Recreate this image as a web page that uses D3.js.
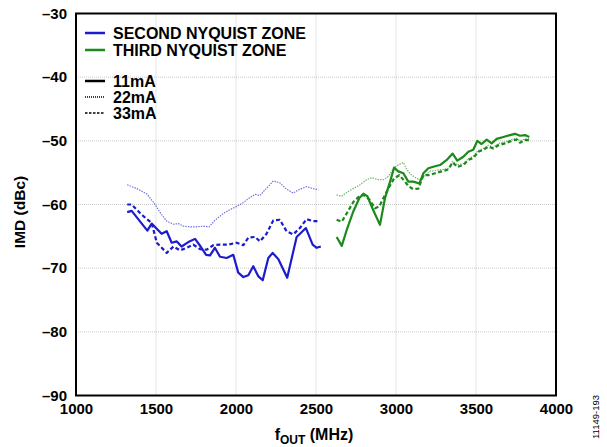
<!DOCTYPE html>
<html><head><meta charset="utf-8">
<script src="https://cdn.jsdelivr.net/npm/d3@7"></script>
<style>
body{margin:0;background:#fff;}
text{font-family:"Liberation Sans",Arial,sans-serif;font-weight:bold;fill:#000;}
</style></head>
<body><svg id="c" width="607" height="447"></svg>
<script>
// ---- data ----
const xTicks = [1000,1500,2000,2500,3000,3500,4000];
const yTicks = [-30,-40,-50,-60,-70,-80,-90];

const z2_11mA_f  = [1320,1348,1446,1473,1535,1567,1598,1630,1660,1702,1744,1779,1813,1838,1868,1900,1942,1983,2014,2046,2077,2108,2140,2167,2202,2229,2265,2320,2379,2437,2479,2504,2530];
const z2_11mA_db = [-61.2,-61.0,-64.1,-63.0,-64.6,-64.2,-66.0,-65.8,-66.6,-65.9,-65.4,-66.6,-67.9,-68.0,-66.8,-68.2,-68.4,-67.9,-70.7,-71.4,-71.1,-69.7,-71.3,-71.9,-68.4,-67.6,-68.6,-71.5,-65.1,-63.7,-66.3,-66.8,-66.6];

const z2_22mA_f  = [1320,1380,1446,1494,1535,1567,1609,1640,1671,1712,1754,1796,1832,1868,1921,1963,2004,2046,2087,2119,2150,2181,2212,2233,2274,2316,2357,2399,2441,2482,2515];
const z2_22mA_db = [-56.9,-57.5,-58.4,-60.0,-61.6,-62.6,-63.1,-63.0,-63.4,-63.5,-63.5,-63.4,-63.5,-62.5,-61.4,-60.8,-60.3,-59.7,-58.9,-58.4,-58.6,-57.7,-56.9,-56.3,-56.6,-57.6,-58.2,-57.6,-57.2,-57.5,-57.7];

const z2_33mA_f  = [1320,1348,1410,1473,1505,1567,1609,1650,1692,1733,1775,1817,1858,1900,1951,2004,2046,2077,2119,2150,2191,2233,2274,2316,2357,2399,2441,2482,2524];
const z2_33mA_db = [-60.0,-60.0,-61.6,-62.9,-66.0,-67.6,-66.6,-67.2,-66.8,-66.3,-67.0,-67.1,-66.4,-66.3,-66.3,-66.0,-66.4,-65.2,-65.1,-65.8,-64.6,-62.5,-62.4,-64.2,-64.7,-63.7,-62.3,-62.6,-62.6];

const z3_11mA_f  = [2629,2661,2692,2733,2771,2796,2821,2858,2900,2931,2963,2988,3014,3046,3077,3108,3146,3171,3202,3244,3275,3317,3354,3383,3421,3452,3483,3508,3535,3567,3598,3629,3671,3712,3744,3775,3806,3833];
const z3_11mA_db = [-65.1,-66.5,-64.0,-61.1,-59.0,-58.3,-58.7,-60.9,-63.2,-59.0,-56.4,-54.2,-54.8,-55.1,-56.4,-56.4,-56.7,-55.1,-54.3,-54.0,-53.8,-53.0,-52.0,-53.1,-52.5,-51.7,-51.4,-50.0,-50.5,-49.8,-50.4,-49.7,-49.4,-49.1,-48.9,-49.2,-49.1,-49.4];

const z3_22mA_f  = [2629,2661,2692,2733,2775,2817,2848,2889,2921,2952,2988,3014,3046,3067,3098,3129,3150,3171,3212,3254,3296,3327,3354,3383,3421,3452,3483,3515,3546,3577,3608,3640,3681,3723,3754,3775,3806,3833];
const z3_22mA_db = [-58.5,-58.7,-58.1,-57.5,-56.9,-56.1,-55.8,-56.1,-56.1,-55.6,-54.2,-53.8,-53.4,-54.5,-55.4,-55.9,-56.1,-55.6,-54.8,-54.6,-54.5,-54.3,-53.2,-53.8,-53.6,-52.8,-52.4,-51.5,-51.2,-50.7,-51.0,-50.4,-50.2,-49.8,-49.6,-50.0,-49.7,-49.7];

const z3_33mA_f  = [2629,2661,2692,2733,2771,2796,2833,2869,2896,2921,2952,2988,3021,3056,3077,3108,3140,3171,3202,3244,3285,3327,3354,3383,3421,3452,3483,3515,3546,3577,3608,3640,3681,3723,3754,3775,3806,3833];
const z3_33mA_db = [-62.4,-62.7,-61.4,-59.6,-58.7,-58.5,-59.2,-60.6,-60.3,-59.0,-57.5,-55.9,-55.4,-56.4,-57.1,-57.6,-57.5,-55.4,-55.4,-55.1,-54.8,-54.5,-53.4,-54.1,-53.8,-53.0,-52.7,-51.7,-51.4,-50.9,-51.2,-50.7,-50.4,-50.0,-49.8,-50.3,-49.9,-49.9];

const legendZones = ["SECOND NYQUIST ZONE","THIRD NYQUIST ZONE"];
const legendCurrents = ["11mA","22mA","33mA"];

// ---- drawing ----
const BLUE = "#1c1ccc", GREEN = "#1a8a1a";
const FONT = '"Liberation Sans",Arial,sans-serif';
const styles = {
  "11mA": {w:2.2, dash:null, op:1},
  "22mA": {w:1.2, dash:"1.4,1.2", op:0.65},
  "33mA": {w:2.2, dash:"4,2.5", op:1}
};
const series = [
  {c:BLUE, cur:"22mA", f:z2_22mA_f, v:z2_22mA_db},
  {c:BLUE, cur:"33mA", f:z2_33mA_f, v:z2_33mA_db},
  {c:BLUE, cur:"11mA", f:z2_11mA_f, v:z2_11mA_db},
  {c:GREEN, cur:"22mA", f:z3_22mA_f, v:z3_22mA_db},
  {c:GREEN, cur:"33mA", f:z3_33mA_f, v:z3_33mA_db},
  {c:GREEN, cur:"11mA", f:z3_11mA_f, v:z3_11mA_db}
];

const L=76, R=556, T=13.5, B=395.5;
const svg = d3.select("#c");
const x = d3.scaleLinear().domain([1000,4000]).range([L,R]);
const y = d3.scaleLinear().domain([-90,-30]).range([B,T]);

// grid
const g = svg.append("g");
g.selectAll(".vg").data(xTicks.slice(1,-1)).enter().append("line")
  .attr("x1",d=>x(d)).attr("x2",d=>x(d)).attr("y1",T).attr("y2",B)
  .attr("stroke","#c8c8c8").attr("stroke-width",1).attr("stroke-dasharray","1,1");
g.selectAll(".hg").data(yTicks.slice(1,-1)).enter().append("line")
  .attr("y1",d=>y(d)).attr("y2",d=>y(d)).attr("x1",L).attr("x2",R)
  .attr("stroke","#c8c8c8").attr("stroke-width",1).attr("stroke-dasharray","1,1");

// axes
const xa = svg.append("g").attr("transform",`translate(0,${B})`)
  .call(d3.axisBottom(x).tickValues(xTicks).tickSize(0).tickPadding(8).tickFormat(d3.format("d")));
xa.select(".domain").remove();
xa.selectAll("text").style("font-size","15px").style("font-family",FONT).style("font-weight","bold");
const ya = svg.append("g").attr("transform",`translate(${L},0)`)
  .call(d3.axisLeft(y).tickValues(yTicks).tickSize(0).tickPadding(9).tickFormat(d=>"\u2013"+Math.abs(d)));
ya.select(".domain").remove();
ya.selectAll("text").style("font-size","15px").style("font-family",FONT).style("font-weight","bold");

// lines
const line = d3.line().x(d=>x(d[0])).y(d=>y(d[1]));
series.forEach(s=>{
  const st = styles[s.cur];
  svg.append("path").datum(s.f.map((f,i)=>[f,s.v[i]]))
    .attr("d",line).attr("fill","none").attr("stroke",s.c)
    .attr("stroke-width",st.w).attr("stroke-opacity",st.op)
    .attr("stroke-dasharray",st.dash).attr("stroke-linejoin","round");
});

// frame
svg.append("rect").attr("x",L).attr("y",T).attr("width",R-L).attr("height",B-T)
  .attr("fill","none").attr("stroke","#000").attr("stroke-width",2);

// legend
const lg = svg.append("g");
[BLUE,GREEN].forEach((c,i)=>{
  const yy = 33 + i*17;
  lg.append("line").attr("x1",85).attr("x2",105).attr("y1",yy).attr("y2",yy).attr("stroke",c).attr("stroke-width",2.5);
  lg.append("text").attr("x",113).attr("y",yy+5.5).style("font-size","16px").text(legendZones[i]);
});
legendCurrents.forEach((t,i)=>{
  const yy = 81 + i*16;
  lg.append("line").attr("x1",85).attr("x2",105).attr("y1",yy).attr("y2",yy).attr("stroke","#000")
    .attr("stroke-width", i==0?2.5:1.5).attr("stroke-dasharray", i==0?null:(i==1?"1,1":"2.5,1.5"));
  lg.append("text").attr("x",113).attr("y",yy+5.5).style("font-size","16px").text(t);
});

// axis titles
const xt = svg.append("text").attr("x",314).attr("y",440).attr("text-anchor","middle").style("font-size","16px");
xt.append("tspan").text("f");
xt.append("tspan").attr("dy",4).style("font-size","12px").text("OUT");
xt.append("tspan").attr("dy",-4).text(" (MHz)");
svg.append("text").attr("transform","translate(25,212) rotate(-90)").attr("text-anchor","middle")
  .style("font-size","15.5px").text("IMD (dBc)");
svg.append("text").attr("transform","translate(599,417) rotate(-90)").attr("text-anchor","middle")
  .style("font-size","9.5px").style("font-weight","normal").text("11149-193");
</script></body></html>
